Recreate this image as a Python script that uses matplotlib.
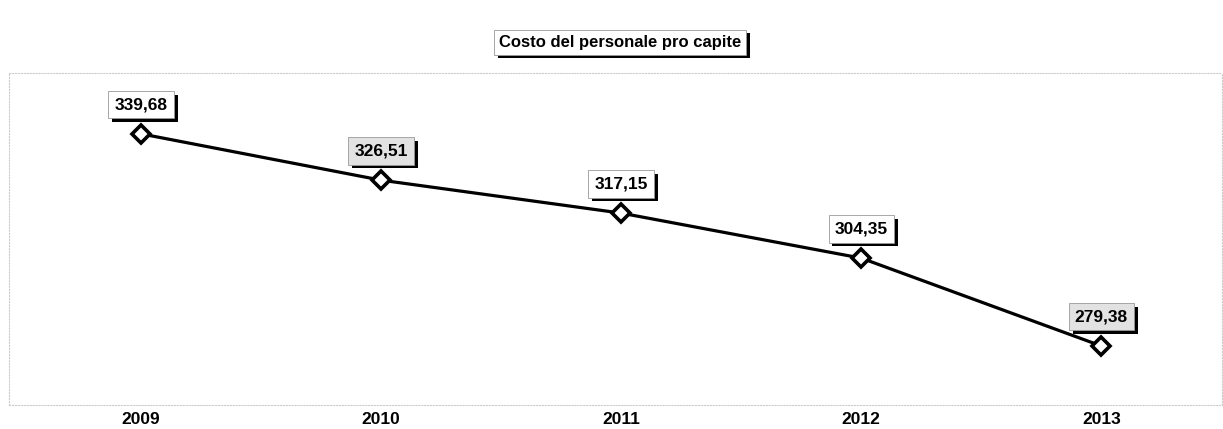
import matplotlib.pyplot as plt
import matplotlib.patheffects as pe

# Data
years = ['2009', '2010', '2011', '2012', '2013']
costo = [339.68, 326.51, 317.15, 304.35, 279.38]
labels = ['339,68', '326,51', '317,15', '304,35', '279,38']

plt.rcParams['font.family'] = ['Liberation Sans', 'DejaVu Sans']

fig = plt.figure(figsize=(12.23, 4.29), dpi=100)
ax = fig.add_axes([0.007, 0.056, 0.992, 0.774])

x = list(range(len(years)))
ax.plot(x, costo, color='black', linewidth=2.3, marker='D', markersize=9.5,
        markerfacecolor='white', markeredgecolor='black', markeredgewidth=2.6, zorder=3)

shadow = [pe.SimplePatchShadow(offset=(2.8, -2.8), shadow_rgbFace='black', alpha=1), pe.Normal()]
box_faces = ['white', '#e2e2e2', 'white', 'white', '#e2e2e2']
for xi, yi, lab, fc in zip(x, costo, labels, box_faces):
    t = ax.annotate(lab, (xi, yi), xytext=(0, 21), textcoords='offset points',
                    ha='center', va='center', fontsize=12.5, fontweight='bold',
                    bbox=dict(boxstyle='square,pad=0.35', facecolor=fc,
                              edgecolor='#999999', linewidth=0.6), zorder=4)
    t.get_bbox_patch().set_path_effects(shadow)

ax.set_xlim(-0.552, 4.502)
ax.set_ylim(262.6, 357.0)
ax.set_xticks(x)
ax.set_xticklabels(years, fontsize=12.5, fontweight='bold')
ax.set_yticks([])
ax.tick_params(axis='x', length=0, pad=5)
for s in ax.spines.values():
    s.set_color('#cccccc')
    s.set_linestyle(':')
    s.set_linewidth(0.8)

title = fig.text(0.507, 0.902, 'Costo del personale pro capite', ha='center', va='center',
                 fontsize=12, fontweight='bold',
                 bbox=dict(boxstyle='square,pad=0.3', facecolor='white',
                           edgecolor='#999999', linewidth=0.6))
title.get_bbox_patch().set_path_effects(shadow)

fig.savefig('out.png', dpi=100)
